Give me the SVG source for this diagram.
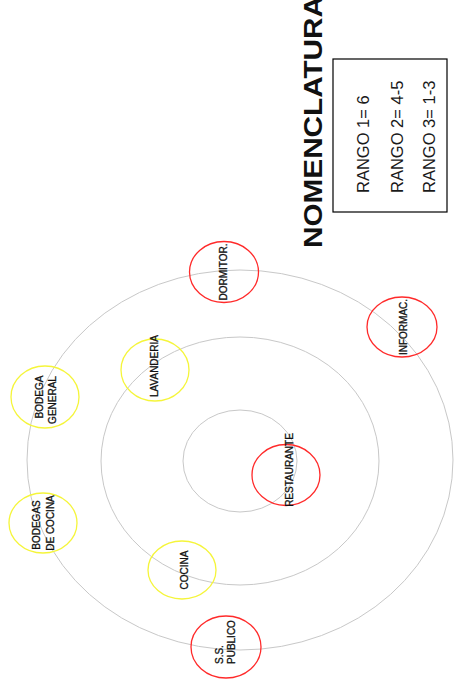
<svg xmlns="http://www.w3.org/2000/svg" width="458" height="681" viewBox="0 0 458 681">
<style>
.ring{fill:none;stroke:#c8c8c8;stroke-width:1}
.red{fill:none;stroke:#ff2a2a;stroke-width:1.3}
.yel{fill:none;stroke:#f5f53a;stroke-width:1.3}
.lbl{font-family:"Liberation Sans",Arial,sans-serif;font-size:10px;fill:#111;stroke:#111;stroke-width:0.3}
.rng{font-family:"Liberation Sans",Arial,sans-serif;font-size:16.5px;fill:#1a1a1a}
.ttl{font-family:"Liberation Sans",Arial,sans-serif;font-size:26px;font-weight:bold;fill:#111}
</style>
<rect width="458" height="681" fill="#fff"/>
<g id="rings">
<ellipse class="ring" cx="240" cy="460" rx="213" ry="190"/>
<ellipse class="ring" cx="240" cy="461" rx="139" ry="124"/>
<ellipse class="ring" cx="240" cy="461" rx="57" ry="51"/>
</g>
<g id="nomenclatura">
<text class="ttl" transform="translate(322,248) rotate(-90)" textLength="252" lengthAdjust="spacingAndGlyphs">NOMENCLATURA</text>
<rect x="333" y="59" width="114" height="153" fill="none" stroke="#000" stroke-width="1.2"/>
<text class="rng" transform="translate(369,193) rotate(-90)">RANGO 1= 6</text>
<text class="rng" transform="translate(403,193) rotate(-90)">RANGO 2= 4-5</text>
<text class="rng" transform="translate(435,193) rotate(-90)">RANGO 3= 1-3</text>
</g>
<g id="dormitor">
<ellipse class="red" cx="224" cy="272" rx="34.5" ry="30.5"/>
<text class="lbl" text-anchor="middle" transform="translate(227,272) rotate(-90)">DORMITOR.</text>
</g>
<g id="informac">
<ellipse class="red" cx="402" cy="327" rx="35" ry="30"/>
<text class="lbl" text-anchor="middle" transform="translate(407,327) rotate(-90)">INFORMAC.</text>
</g>
<g id="lavanderia">
<ellipse class="yel" cx="155" cy="370" rx="34" ry="31"/>
<text class="lbl" text-anchor="middle" transform="translate(158,366) rotate(-90)">LAVANDERIA</text>
</g>
<g id="bodega-general">
<ellipse class="yel" cx="45" cy="397" rx="34" ry="31"/>
<text class="lbl" text-anchor="middle" transform="translate(43,397) rotate(-90)">BODEGA</text>
<text class="lbl" text-anchor="middle" transform="translate(56,400) rotate(-90)">GENERAL</text>
</g>
<g id="restaurante">
<ellipse class="red" cx="286" cy="475" rx="34" ry="30.5"/>
<text class="lbl" text-anchor="middle" transform="translate(293,470) rotate(-90)">RESTAURANTE</text>
</g>
<g id="bodegas-cocina">
<ellipse class="yel" cx="43" cy="523" rx="34" ry="30"/>
<text class="lbl" text-anchor="middle" transform="translate(40,525) rotate(-90)">BODEGAS</text>
<text class="lbl" text-anchor="middle" transform="translate(54,523) rotate(-90)">DE COCINA</text>
</g>
<g id="cocina">
<ellipse class="yel" cx="182" cy="570" rx="34" ry="29"/>
<text class="lbl" text-anchor="middle" transform="translate(188,570) rotate(-90)">COCINA</text>
</g>
<g id="ss-publico">
<ellipse class="red" cx="226" cy="647" rx="35" ry="31"/>
<text class="lbl" transform="translate(223,664) rotate(-90)">S.S.</text>
<text class="lbl" transform="translate(235,664) rotate(-90)">PUBLICO</text>
</g>
</svg>
